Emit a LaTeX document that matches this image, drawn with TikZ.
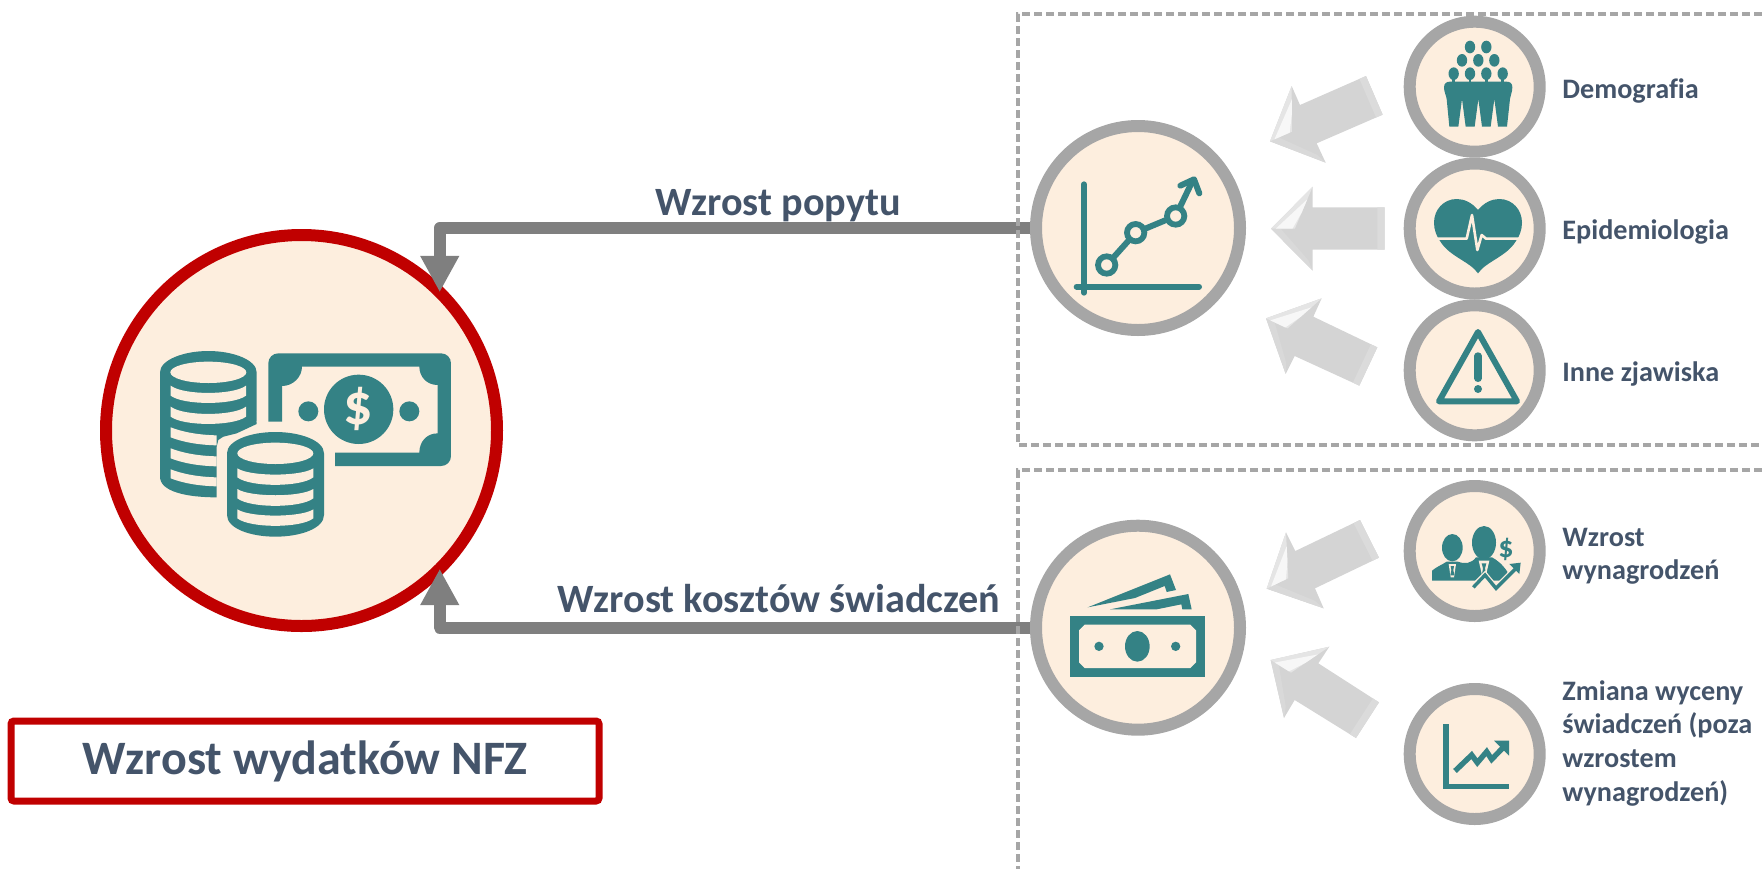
\documentclass[tikz,border=0pt]{standalone}
\usepackage{fontspec}
\setmainfont[Ligatures=NoCommon]{Carlito}
\usetikzlibrary{arrows.meta,calc}
\definecolor{teal1}{HTML}{348285}
\definecolor{beige1}{HTML}{FDEEDE}
\definecolor{ring1}{HTML}{A6A6A6}
\definecolor{conn1}{HTML}{7F7F7F}
\definecolor{red1}{HTML}{C00000}
\definecolor{txt1}{HTML}{44546A}
\tikzset{
  mainring/.style={circle,draw=red1,fill=beige1,line width=6pt,minimum size=195.5pt,inner sep=0pt,outer sep=0pt},
  bigring/.style={circle,draw=ring1,fill=beige1,line width=6pt,minimum size=102pt,inner sep=0pt},
  smallring/.style={circle,draw=ring1,fill=beige1,line width=6pt,minimum size=65pt,inner sep=0pt},
  connline/.style={draw=conn1,line width=6pt,line join=round,-{Triangle[length=18.2pt,width=18.2pt]}},
  dashline/.style={draw=ring1,line width=1.6pt,dash pattern=on 3.9pt off 2.1pt},
  sidelabel/.style={font=\fontsize{14.1}{16.8}\selectfont\bfseries,text=txt1,anchor=base west,align=left,inner sep=0pt},
  flowlabel/.style={font=\fontsize{20.1}{24}\selectfont\bfseries,text=txt1,anchor=base,inner sep=0pt},
  titlebox/.style={draw=red1,line width=3.5pt,rounded corners=1.5pt,minimum width=294pt,minimum height=40pt,inner sep=0pt,
     font=\fontsize{24}{28}\selectfont\bfseries,text=txt1},
  ico/.style={fill=teal1,draw=none},
  cut/.style={fill=beige1,draw=none},
  icoline/.style={draw=teal1,line cap=round,line join=round},
}
% block arrow: tip, head top, neck top, tail top, tail bottom, neck bottom, head bottom
\newcommand{\bevelarrow}[7]{%
  \coordinate (T) at #1; \coordinate (HT) at #2; \coordinate (NT) at #3;
  \coordinate (TT) at #4; \coordinate (TB) at #5; \coordinate (NB) at #6; \coordinate (HB) at #7;
  \coordinate (TM) at ($(TT)!.5!(TB)$);
  \coordinate (IN) at ($(T)!.21!(TM)$);
  \fill[fill=black!17] (T)--(HT)--(NT)--(TT)--(TB)--(NB)--(HB)--cycle;
  \fill[fill=black!15] (T)--(HB)--($(HB)!.25!(IN)$)--($(T)!.4!(IN)$)--cycle;
  \fill[fill=black!10] (T)--(HT)--(IN)--cycle;
  \fill[fill=black!3] ($(T)!.2!(IN)$)--($(HT)!.3!(IN)$)--($(HT)!.62!(IN)$)--($(IN)!.1!(T)$)--cycle;
  \fill[fill=black!14] (TT)--(TB)--($(TB)!.1!(NB)$)--($(TT)!.1!(NT)$)--cycle;
}
\begin{document}
\begin{tikzpicture}[x=0.5pt,y=-0.5pt]
\useasboundingbox (0,0) rectangle (1762,869);

% rings
\node[mainring] (money) at (301.5,430.5) {};
\node[bigring] (demand) at (1138,228) {};
\node[bigring] (cost) at (1138,627.7) {};
\node[smallring] (demo) at (1474.7,86.7) {};
\node[smallring] (epi) at (1474.7,228.5) {};
\node[smallring] (other) at (1474.7,370.3) {};
\node[smallring] (wage) at (1474.7,551) {};
\node[smallring] (price) at (1474.7,754) {};

% connectors
\draw[connline] (demand.west) -- (demand.west -| money.45) -- (money.45);
\draw[connline] (cost.west) -- (cost.west -| money.-45) -- (money.-45);

% dashed frames
\draw[dashline] (1762,14) -- (1018,14) -- (1018,445) -- (1762,445);
\draw[dashline] (1762,470) -- (1018,470) -- (1018,869);

% labels
\node[flowlabel] (l1) at (778,215) {Wzrost popytu};
\node[flowlabel] (l2) at (779,612) {Wzrost kosztów świadczeń};
\node[titlebox] (title) at (305,761) {\raisebox{-1pt}{Wzrost wydatków NFZ}};
\node[sidelabel] (t1) at (1562,98) {Demografia};
\node[sidelabel] (t2) at (1562,239) {Epidemiologia};
\node[sidelabel] (t3) at (1562,381) {Inne zjawiska};
\node[sidelabel] (t4) at (1562,546) {Wzrost};
\node[sidelabel] (t5) at (1562,579) {wynagrodzeń};
\node[sidelabel] (t6) at (1562,700) {Zmiana wyceny};
\node[sidelabel] (t7) at (1562,733) {świadczeń (poza};
\node[sidelabel] (t8) at (1562,767) {wzrostem};
\node[sidelabel] (t9) at (1562,801) {wynagrodzeń)};

% block arrows
\begin{scope}[shift={(1260,0)},scale=1/3]
\bevelarrow{(30,424)}{(95,258)}{(120,315)}{(318,228)}{(368,344)}{(170,430)}{(197,488)}
\bevelarrow{(33,686)}{(158,560)}{(158,622)}{(374,622)}{(374,749)}{(158,749)}{(158,812)}
\bevelarrow{(18,955)}{(185,895)}{(160,950)}{(352,1042)}{(298,1157)}{(104,1068)}{(77,1122)}
\end{scope}
\begin{scope}[shift={(1000,470)},scale=1/3]
\bevelarrow{(800,356)}{(858,187)}{(886,243)}{(1080,150)}{(1137,263)}{(945,355)}{(971,415)}
\bevelarrow{(812,570)}{(988,530)}{(955,580)}{(1137,697)}{(1068,804)}{(884,690)}{(852,744)}
\end{scope}

% money icon
\begin{scope}[shift={(90,220)},scale=1/3]
 \fill[ico] (210,457) .. controls (210,420) and (280,393) .. (355,393) .. controls (430,393) and (500,420) .. (500,457)
   -- (500,605) .. controls (465,610) and (435,622) .. (415,640) -- (385,660) -- (380,680) -- (380,832)
   .. controls (290,832) and (210,815) .. (210,770) -- cycle;
 \fill[cut] (355,457) ellipse [x radius=114, y radius=32];
 \foreach \ya/\yb in {497/527,560/590}
   \fill[cut] (242,\ya) .. controls (280,{\ya+29}) and (430,{\ya+29}) .. (468,\ya) -- (468,\yb) .. controls (430,{\yb+29}) and (280,{\yb+29}) .. (242,\yb) -- cycle;
 \foreach \ya/\yb in {622/652,685/715,748/775}
   \fill[cut] (242,\ya) .. controls (280,{\ya+15}) and (330,{\ya+23}) .. (380,{\ya+24}) -- (380,{\yb+24}) .. controls (330,{\yb+23}) and (280,{\yb+15}) .. (242,\yb) -- cycle;
 \fill[ico] (470,606) -- (500,606) -- (500,612) -- (440,640) -- (400,650) -- (400,630) -- cycle;
 % bill
 \fill[ico] (535,605) -- (535,430) .. controls (535,413) and (548,400) .. (565,400) -- (1053,400)
   .. controls (1070,400) and (1083,413) .. (1083,430) -- (1083,708) .. controls (1083,725) and (1070,738) .. (1053,738)
   -- (735,738) -- (735,698) -- (988,698) .. controls (988,665) and (1010,640) .. (1043,640) -- (1043,495)
   .. controls (1010,495) and (988,470) .. (988,440) -- (636,440) .. controls (636,470) and (610,498) .. (576,498) -- (576,605) -- cycle;
 \fill[ico] (806,568) circle [radius=104];
 \fill[ico] (655,574) circle [radius=30];
 \fill[ico] (958,574) circle [radius=30];
 \node[text=beige1,font=\fontsize{29}{29}\selectfont\bfseries,inner sep=0pt] (dollar) at (806,568) {\$};
 % front coins
 \fill[cut] (395,700) rectangle (411,880);
 \fill[ico] (411,700) .. controls (411,662) and (480,636) .. (556,636) .. controls (632,636) and (702,662) .. (702,700)
   -- (702,885) .. controls (702,925) and (632,950) .. (556,950) .. controls (480,950) and (411,925) .. (411,885) -- cycle;
 \fill[cut] (556,700) ellipse [x radius=114, y radius=32];
 \foreach \ya/\yb in {745/772,807/835,868/895}
   \fill[cut] (442,\ya) .. controls (480,{\ya+25}) and (632,{\ya+25}) .. (670,\ya) -- (670,\yb) .. controls (632,{\yb+30}) and (480,{\yb+30}) .. (442,\yb) -- cycle;
\end{scope}

% chart icon
\begin{scope}[shift={(1000,120)},scale=1/3]
 \draw[icoline,line width=3pt] (252,193) -- (252,518);
 \draw[icoline,line width=3pt] (230,500) -- (597,500);
 \draw[icoline,line width=3pt] (320,435) -- (407,338) -- (527,288) -- (578,182);
 \draw[icoline,line width=3pt] (541,197) -- (582,178) -- (598,220);
 \foreach \px/\py in {320/435,407/338,527/288}
   \draw[draw=teal1,fill=beige1,line width=2.9pt] (\px,\py) circle [radius=26];
\end{scope}

% cash icon
\begin{scope}[shift={(1000,470)},scale=1/3]
 \fill[ico] (210,437) rectangle (615,621);
 \fill[cut] (254,464) -- (571,464) -- (588,481) -- (588,577) -- (571,594) -- (254,594) -- (237,577) -- (237,481) -- cycle;
 \fill[ico] (412,529) ellipse [x radius=37, y radius=46];
 \fill[ico] (297,529) circle [radius=14];
 \fill[ico] (527,529) circle [radius=14];
 \fill[ico] (263,412) -- (510,313) -- (528,360) -- (500,366) -- (494,348) -- (405,384) -- cycle;
 \fill[ico] (330,418) -- (565,372) -- (575,418) -- (547,418) -- (544,403) -- (470,418) -- cycle;
\end{scope}

% people, heart, warning icons
\begin{scope}[shift={(1260,0)},scale=1/3]
 \foreach \px/\py in {630/141,679/141,606/181,655/181,703/181,581/221,630/221,679/221,728/221}
   \fill[ico] (\px,\py) ellipse [x radius=15.5, y radius=19];
 \foreach \px in {581,630,679,728}
   \fill[ico] (\px-4,235) rectangle (\px+4,250);
 \fill[ico] (552,262) .. controls (552,250) and (560,245) .. (570,245) -- (740,245) .. controls (750,245) and (757,250) .. (757,262)
   .. controls (757,275) and (752,285) .. (750,297) -- (741,380) -- (714,380) -- (703,297) -- (692,380) -- (666,380) -- (655,297) -- (644,380) -- (617,380)
   -- (606,297) -- (595,380) -- (568,380) -- (560,297) .. controls (558,285) and (552,275) .. (552,262) -- cycle;
 \fill[ico] (654,630) .. controls (635,607) and (612,597) .. (590,597) .. controls (550,597) and (522,630) .. (522,668)
   .. controls (522,690) and (530,710) .. (542,726) .. controls (570,770) and (630,785) .. (654,820)
   .. controls (678,785) and (738,770) .. (766,726) .. controls (778,710) and (786,690) .. (786,668)
   .. controls (786,630) and (758,597) .. (718,597) .. controls (696,597) and (673,607) .. (654,630) -- cycle;
 \draw[draw=beige1,line width=1.3pt,line join=round] (515,716) -- (620,716) -- (636,645) -- (652,750) -- (665,705) -- (678,716) -- (795,716);
 \draw[draw=teal1,line width=3pt,line join=round] (654,996) -- (537,1204) -- (771,1204) -- cycle;
 \draw[icoline,line width=3.7pt] (654,1068) -- (654,1135);
 \fill[ico] (654,1167) circle [radius=12];
\end{scope}

% wage and growth icons
\begin{scope}[shift={(1390,470)},scale=1/3]
 \fill[ico] (187,233) ellipse [x radius=31, y radius=41];
 \fill[ico] (282,218) ellipse [x radius=36, y radius=50];
 \fill[ico] (126,332) -- (126,302) .. controls (140,290) and (155,285) .. (170,275) -- (204,275)
   .. controls (225,283) and (245,280) .. (258,262) -- (306,262) .. controls (320,270) and (335,280) .. (352,305) -- (352,332) -- cycle;
 \fill[cut] (176,282) -- (198,282) -- (192,322) -- (182,322) -- cycle;
 \fill[ico] (182,288) -- (192,288) -- (190,300) -- (193,316) -- (181,316) -- (184,300) -- cycle;
 \fill[cut] (266,272) -- (298,272) -- (288,315) -- (276,315) -- cycle;
 \fill[ico] (275,280) -- (289,280) -- (285,295) -- (288,312) -- (276,312) -- (279,295) -- cycle;
 \fill[cut] (240,332) rectangle (360,345);
 \draw[draw=beige1,line width=3.6pt,line join=miter] (240,362) -- (285,318) -- (318,358) -- (395,280);
 \draw[draw=teal1,line width=1.7pt,line join=miter] (250,352) -- (285,315) -- (318,355) -- (380,293);
 \fill[ico] (358,282) -- (392,278) -- (388,312) -- cycle;
 \node[text=teal1,font=\fontsize{15}{15}\selectfont\bfseries,inner sep=0pt] (dollar2) at (348,238) {\$};
 \fill[ico] (160,763) rectangle (177,958);
 \fill[ico] (160,942) rectangle (357,958);
 \draw[draw=teal1,line width=2.7pt,line join=miter] (195,903) -- (245,855) -- (262,878) -- (290,845) -- (305,868) -- (340,832);
 \fill[ico] (312,812) -- (357,812) -- (357,857) -- cycle;
\end{scope}
\end{tikzpicture}
\end{document}
